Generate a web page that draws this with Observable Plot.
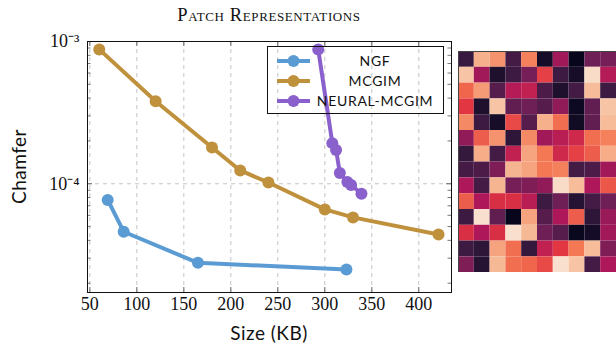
<!DOCTYPE html>
<html><head><meta charset="utf-8">
<script src="https://cdn.jsdelivr.net/npm/d3@7"></script>
<script src="https://cdn.jsdelivr.net/npm/@observablehq/plot@0.6"></script>
<style>
body{margin:0;background:#fff;}
#wrap{position:relative;width:616px;height:347px;overflow:hidden;background:#fff;}
#title{position:absolute;left:69px;width:400px;top:5px;text-align:center;font-family:"Liberation Serif",serif;font-variant:small-caps;font-size:18.5px;letter-spacing:0.6px;color:#111;}
#xlabel{position:absolute;left:169px;width:200px;top:321px;text-align:center;font-family:"Lato",sans-serif;font-size:19px;letter-spacing:0.5px;color:#111;}
#ylabel{position:absolute;left:-82px;width:200px;top:155px;text-align:center;font-family:"Lato",sans-serif;font-size:19px;letter-spacing:0.5px;color:#111;transform:rotate(-90deg);}
#main{position:absolute;left:0;top:0;}
#heat{position:absolute;left:458px;top:51px;}
#legend{position:absolute;left:267px;top:46px;}
</style></head>
<body><div id="wrap">
<div id="title">Patch Representations</div>
<div id="main"></div>
<div id="heat"></div>
<div id="legend"></div>
<div id="xlabel">Size (KB)</div>
<div id="ylabel">Chamfer</div>
</div>
<script>
// ---- data ----
const seriesNames = ["NGF", "MCGIM", "Neural-MCGIM"];
const seriesLabels = ["NGF", "MCGIM", "NEURAL-MCGIM"];
const seriesColors = ["#5b9bd3", "#c0913c", "#8a60cc"];

const ngfSize = [69, 86, 165, 323];
const ngfChamfer = [7.7e-5, 4.6e-5, 2.78e-5, 2.5e-5];
const mcgimSize = [60, 120, 180, 210, 240, 300, 330, 421];
const mcgimChamfer = [8.8e-4, 3.8e-4, 1.8e-4, 1.24e-4, 1.02e-4, 6.6e-5, 5.8e-5, 4.4e-5];
const neuralSize = [293, 308, 312, 316, 324, 328, 339];
const neuralChamfer = [8.8e-4, 1.93e-4, 1.73e-4, 1.19e-4, 1.03e-4, 9.8e-5, 8.5e-5];

const xTicks = [50, 100, 150, 200, 250, 300, 350, 400];
const yMajor = [1e-4, 1e-3];
const yTickLabels = ["10⁻⁴", "10⁻³"];
const yMinor = [2, 3, 4, 5, 6, 7, 8, 9].flatMap(m => [m * 1e-5, m * 1e-4]);

// patch image values (0 = dark, 1 = light), 14 rows x 10 columns
const patchRows = [
  [0.15, 0.85, 0.78, 0.18, 0.74, 0.06, 0.40, 0.01, 0.28, 0.30],
  [0.90, 0.40, 0.08, 0.16, 0.30, 0.60, 0.16, 0.06, 0.96, 0.45],
  [0.68, 0.80, 0.22, 0.45, 0.48, 0.20, 0.08, 0.18, 0.88, 0.16],
  [0.58, 0.08, 0.90, 0.25, 0.28, 0.22, 0.36, 0.03, 0.25, 0.90],
  [0.76, 0.16, 0.06, 0.62, 0.22, 0.85, 0.70, 0.04, 0.25, 0.88],
  [0.36, 0.66, 0.78, 0.12, 0.76, 0.40, 0.46, 0.52, 0.70, 0.74],
  [0.14, 0.84, 0.18, 0.48, 0.82, 0.72, 0.52, 0.60, 0.66, 0.84],
  [0.18, 0.20, 0.32, 0.86, 0.82, 0.72, 0.74, 0.18, 0.20, 0.40],
  [0.43, 0.18, 0.86, 0.30, 0.32, 0.36, 0.96, 0.88, 0.43, 0.65],
  [0.66, 0.43, 0.55, 0.55, 0.46, 0.16, 0.28, 0.10, 0.18, 0.28],
  [0.16, 0.97, 0.25, 0.01, 0.82, 0.22, 0.43, 0.66, 0.12, 0.38],
  [0.55, 0.43, 0.55, 0.97, 0.87, 0.28, 0.22, 0.02, 0.05, 0.40],
  [0.16, 0.12, 0.82, 0.70, 0.14, 0.48, 0.58, 0.72, 0.88, 0.32],
  [0.32, 0.10, 0.87, 0.70, 0.68, 0.62, 0.97, 0.90, 0.18, 0.43]
];
const rocketStops = ["#03051a", "#35193e", "#701f57", "#ad1759", "#e13342", "#f37651", "#f6b48f", "#faebdd"];

// ---- tables ----
const rows = [
  ...ngfSize.map((s, i) => ({series: "NGF", size: s, chamfer: ngfChamfer[i]})),
  ...mcgimSize.map((s, i) => ({series: "MCGIM", size: s, chamfer: mcgimChamfer[i]})),
  ...neuralSize.map((s, i) => ({series: "Neural-MCGIM", size: s, chamfer: neuralChamfer[i]}))
];
const rocket = d3.piecewise(d3.interpolateRgb, rocketStops);
const cells = patchRows.flatMap((r, ri) => r.map((v, ci) => ({row: ri, col: ci, v, color: rocket(v)})));

const W = 456, H = 347, mT = 41, mB = 55, mL = 87, mR = 5;
const fw = W - mL - mR, fh = H - mT - mB;

const main = Plot.plot({
  width: W, height: H,
  marginTop: mT, marginBottom: mB, marginLeft: mL, marginRight: mR,
  x: {domain: [47.5, 434.8]},
  y: {type: "log", domain: [1.72e-5, 1e-3]},
  color: {domain: seriesNames, range: seriesColors},
  style: {fontFamily: "Liberation Serif, serif", fontSize: "18px", background: "transparent", color: "#111", overflow: "visible"},
  marks: [
    Plot.ruleX(xTicks, {x: d => d, stroke: "#c4c4c4", strokeDasharray: "4,4"}),
    Plot.ruleY([1e-4], {y: d => d, stroke: "#c4c4c4", strokeDasharray: "4,4"}),
    Plot.tickX(xTicks, {x: d => d, insetTop: fh - 5, stroke: "#666"}),
    Plot.tickX(xTicks, {x: d => d, insetBottom: fh - 5, stroke: "#666"}),
    Plot.tickY(yMajor, {y: d => d, insetRight: fw - 5, stroke: "#666"}),
    Plot.tickY(yMajor, {y: d => d, insetLeft: fw - 5, stroke: "#666"}),
    Plot.tickY(yMinor, {y: d => d, insetRight: fw - 3.5, stroke: "#777"}),
    Plot.tickY(yMinor, {y: d => d, insetLeft: fw - 3.5, stroke: "#777"}),
    Plot.axisX({ticks: xTicks, tickSize: 0, tickPadding: 5, label: null}),
    Plot.axisY({ticks: yMajor, tickSize: 0, tickPadding: 8, label: null,
      tickFormat: d => yTickLabels[yMajor.indexOf(d)]}),
    Plot.line(rows, {x: "size", y: "chamfer", z: "series", stroke: "series", strokeWidth: 4, strokeLinejoin: "round"}),
    Plot.dot(rows, {x: "size", y: "chamfer", fill: "series", r: 6}),
    Plot.frame({stroke: "#111"})
  ]
});
document.getElementById("main").appendChild(main);

const heat = Plot.plot({
  width: 160, height: 224, margin: 0,
  x: {type: "band", domain: d3.range(10), padding: 0, axis: null},
  y: {type: "band", domain: d3.range(14), padding: 0, axis: null},
  style: {background: "transparent"},
  marks: [
    Plot.cell(cells, {x: "col", y: "row", fill: "color", inset: 0}),
    Plot.frame({stroke: "#444"})
  ]
});
document.getElementById("heat").appendChild(heat);

// legend
const ns = "http://www.w3.org/2000/svg";
const lg = document.createElementNS(ns, "svg");
lg.setAttribute("width", 177); lg.setAttribute("height", 68);
let html = `<rect x="0.5" y="0.5" width="176" height="67" fill="none" stroke="#111"/>`;
seriesLabels.forEach((lab, i) => {
  const y = 15 + i * 20;
  html += `<line x1="10" x2="43" y1="${y}" y2="${y}" stroke="${seriesColors[i]}" stroke-width="4"/>`;
  html += `<circle cx="26.5" cy="${y}" r="6" fill="${seriesColors[i]}"/>`;
  html += `<text x="108" y="${y}" dy="0.36em" text-anchor="middle" font-family="Lato, sans-serif" font-size="14" letter-spacing="0.7" fill="#111">${lab}</text>`;
});
lg.innerHTML = html;
document.getElementById("legend").appendChild(lg);
</script>
</body></html>
